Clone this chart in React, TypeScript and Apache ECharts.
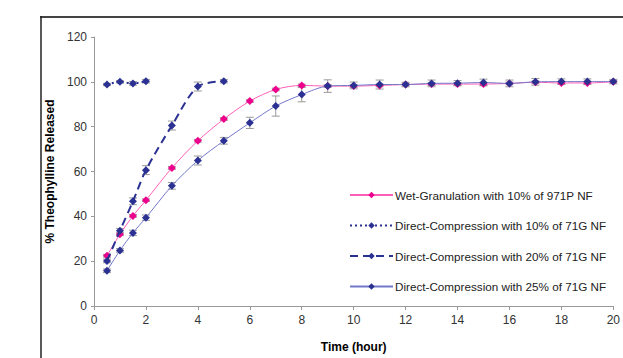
import React, { useEffect, useRef } from "react";
import * as echarts from "echarts";

const timesLong = [0.5, 1, 1.5, 2, 3, 4, 5, 6, 7, 8, 9, 10, 11, 12, 13, 14, 15, 16, 17, 18, 19, 20];
const times20 = [0.5, 1, 1.5, 2, 3, 4, 5];
const times10 = [0.5, 1, 1.5, 2];

const wetValues = [22.4, 32, 40.2, 47.2, 61.6, 73.7, 83.4, 91.4, 96.6, 98.4, 98.1, 98.1, 98.4, 98.8, 99.0, 99.0, 99.0, 99.3, 99.8, 99.5, 99.5, 100];
const wetErr = [0.6, 0.6, 0.6, 0.6, 0.6, 0.6, 0.6, 0.6, 0.6, 0.6, 0.6, 0.6, 0.6, 0.6, 0.6, 0.6, 0.6, 0.6, 0.6, 0.6, 0.6, 0.6];
const dc25Values = [15.7, 24.8, 32.6, 39.4, 53.6, 64.9, 73.7, 81.7, 89.2, 94.3, 98.1, 98.4, 98.8, 98.8, 99.3, 99.4, 99.7, 99.3, 100, 100.1, 100.1, 100.1];
const dc25Err = [0.8, 0.8, 1.2, 1.2, 1.5, 2, 1.5, 2.5, 4.5, 3.2, 2.8, 1.5, 2, 1, 1.5, 1.2, 1.5, 1.5, 1.5, 1.2, 1.2, 1];
const dc20Values = [20.1, 33.6, 46.7, 60.6, 80.5, 97.9, 100.3];
const dc20Err = [0.8, 1, 1.5, 2, 2, 2, 0.8];
const dc10Values = [98.8, 100, 99.3, 100.3];
const dc10Err = [0.5, 0.5, 0.8, 0.8];

const seriesNames = [
  "Wet-Granulation with 10% of 971P NF",
  "Direct-Compression with 10% of 71G NF",
  "Direct-Compression with 20% of 71G NF",
  "Direct-Compression with 25% of 71G NF",
];

const yTicks = [0, 20, 40, 60, 80, 100, 120];
const xTicks = [0, 2, 4, 6, 8, 10, 12, 14, 16, 18, 20];

const pairs = (xs: number[], ys: number[]) => xs.map((x, i) => [x, ys[i]]);
const errs = (xs: number[], ys: number[], es: number[]) =>
  xs.map((x, i) => [x, ys[i] - es[i], ys[i] + es[i]]);

const errorRender = (params: any, api: any) => {
  const x = api.value(0);
  const lo = api.coord([x, api.value(1)]);
  const hi = api.coord([x, api.value(2)]);
  const cw = 4;
  const style = { stroke: "#9a9a9a", lineWidth: 1 };
  return {
    type: "group",
    children: [
      { type: "line", shape: { x1: lo[0], y1: lo[1], x2: hi[0], y2: hi[1] }, style },
      { type: "line", shape: { x1: lo[0] - cw, y1: lo[1], x2: lo[0] + cw, y2: lo[1] }, style },
      { type: "line", shape: { x1: hi[0] - cw, y1: hi[1], x2: hi[0] + cw, y2: hi[1] }, style },
    ],
  };
};

export default function App() {
  const ref = useRef<HTMLDivElement>(null);
  useEffect(() => {
    if (!ref.current) return;
    const chart = echarts.init(ref.current, undefined, { renderer: "svg" });
    const navy = "#2b3192";
    const font = "Arial, 'Liberation Sans', sans-serif";
    chart.setOption({
      animation: false,
      textStyle: { fontFamily: font },
      grid: { left: 94, right: 3, top: 37, bottom: 46, containLabel: false },
      xAxis: {
        type: "value",
        min: 0,
        max: 20,
        interval: 2,
        name: "Time (hour)",
        nameLocation: "middle",
        nameGap: 35,
        nameTextStyle: { fontWeight: "bold", fontSize: 12, color: "#000", fontFamily: font },
        axisLine: { lineStyle: { color: "#999", width: 1 } },
        axisTick: { show: true, length: 4, lineStyle: { color: "#999" } },
        axisLabel: { fontSize: 12, color: "#333", margin: 8, fontFamily: font, formatter: (v: number) => (xTicks.includes(v) ? String(v) : "") },
        splitLine: { show: false },
      },
      yAxis: {
        type: "value",
        min: 0,
        max: 120,
        interval: 20,
        name: "% Theophylline Released",
        nameLocation: "middle",
        nameGap: 27,
        nameTextStyle: { fontWeight: "bold", fontSize: 12, color: "#000", fontFamily: font },
        axisLine: { show: true, lineStyle: { color: "#999", width: 1 } },
        axisTick: { show: true, length: 3, lineStyle: { color: "#999" } },
        axisLabel: { fontSize: 12, color: "#333", margin: 7, fontFamily: font, formatter: (v: number) => (yTicks.includes(v) ? String(v) : "") },
        splitLine: { show: false },
      },
      legend: {
        data: seriesNames,
        orient: "vertical",
        left: 344,
        top: 184,
        itemWidth: 43,
        itemHeight: 8,
        itemGap: 18.5,
        textStyle: { fontSize: 11.7, color: "#222", fontFamily: font, padding: [0, 0, 0, -3] },
      },
      graphic: [
        { type: "line", shape: { x1: 40, y1: 17, x2: 623, y2: 17 }, style: { stroke: "#444", lineWidth: 2 } },
        { type: "line", shape: { x1: 41, y1: 16, x2: 41, y2: 358 }, style: { stroke: "#222", lineWidth: 1.5 } },
      ],
      series: [
        { type: "custom", name: "err25", renderItem: errorRender, data: errs(timesLong, dc25Values, dc25Err), z: 1, silent: true },
        { type: "custom", name: "err20", renderItem: errorRender, data: errs(times20, dc20Values, dc20Err), z: 1, silent: true },
        { type: "custom", name: "err10", renderItem: errorRender, data: errs(times10, dc10Values, dc10Err), z: 1, silent: true },
        { type: "custom", name: "errwet", renderItem: errorRender, data: errs(timesLong, wetValues, wetErr), z: 1, silent: true },
        {
          type: "line",
          name: seriesNames[0],
          data: pairs(timesLong, wetValues),
          smooth: 0.3,
          symbol: "diamond",
          symbolSize: 8,
          lineStyle: { color: "#ff5fb8", width: 1 },
          itemStyle: { color: "#ec008c" },
          z: 3,
        },
        {
          type: "line",
          name: seriesNames[1],
          data: pairs(times10, dc10Values),
          smooth: 0.3,
          symbol: "diamond",
          symbolSize: 8,
          lineStyle: { color: navy, width: 2, type: [2, 3] },
          itemStyle: { color: navy },
          z: 4,
        },
        {
          type: "line",
          name: seriesNames[2],
          data: pairs(times20, dc20Values),
          smooth: 0.3,
          symbol: "diamond",
          symbolSize: 8,
          lineStyle: { color: navy, width: 2, type: [8, 5] },
          itemStyle: { color: navy },
          z: 4,
        },
        {
          type: "line",
          name: seriesNames[3],
          data: pairs(timesLong, dc25Values),
          smooth: 0.3,
          symbol: "diamond",
          symbolSize: 8,
          lineStyle: { color: "#7378c8", width: 1 },
          itemStyle: { color: navy },
          z: 4,
        },
      ],
    });
    return () => chart.dispose();
  }, []);
  return (
    <div
      ref={ref}
      style={{ position: "absolute", left: 0, top: 0, width: 623, height: 358, background: "#fff" }}
    />
  );
}
